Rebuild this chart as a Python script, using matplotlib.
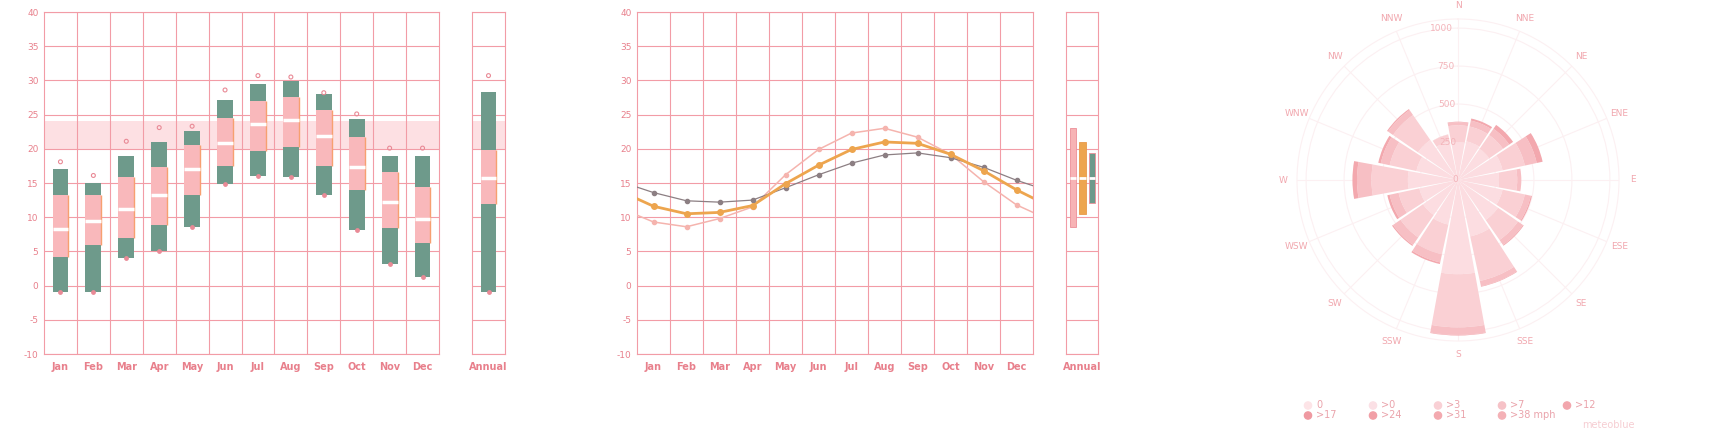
import numpy as np
import matplotlib.pyplot as plt
from matplotlib.patches import Circle

plt.rcParams['axes.unicode_minus'] = False

#### Data ####
months = ['Jan', 'Feb', 'Mar', 'Apr', 'May', 'Jun', 'Jul', 'Aug', 'Sep', 'Oct', 'Nov', 'Dec']

# left panel: monthly boxes
box_max = [17.0, 15.0, 19.0, 21.0, 22.6, 27.2, 29.5, 29.9, 28.0, 24.4, 19.0, 19.0]
box_q3 = [13.3, 13.3, 15.9, 17.3, 20.5, 24.5, 27.0, 27.6, 25.7, 21.7, 16.6, 14.4]
box_med = [8.3, 9.5, 11.2, 13.2, 17.0, 20.9, 23.6, 24.2, 21.8, 17.3, 12.2, 9.8]
box_q1 = [4.2, 6.0, 7.0, 8.9, 13.2, 17.5, 19.7, 20.2, 17.5, 14.0, 8.4, 6.3]
box_min = [-1.0, -1.0, 4.1, 5.1, 8.5, 14.8, 16.0, 15.9, 13.3, 8.1, 3.1, 1.3]
record_max = [18.1, 16.1, 21.1, 23.1, 23.3, 28.6, 30.7, 30.5, 28.2, 25.1, 20.1, 20.1]
annual_box = {'max': 28.3, 'q3': 19.8, 'med': 15.8, 'q1': 12.0, 'min': -1.0, 'rec': 30.7}
comfort_band = (20, 24)

# middle panel: monthly lines (edge values = curve at panel borders)
line_gray = [13.6, 12.4, 12.2, 12.5, 14.3, 16.2, 17.9, 19.1, 19.4, 18.7, 17.3, 15.4]
line_orange = [11.6, 10.5, 10.7, 11.7, 14.9, 17.6, 19.9, 21.0, 20.8, 19.2, 16.8, 14.0]
line_pink = [9.3, 8.6, 9.8, 11.5, 16.2, 19.9, 22.3, 23.0, 21.7, 19.2, 15.2, 11.8]
edge_gray = (14.4, 14.6)
edge_orange = (12.7, 12.8)
edge_pink = (10.3, 10.7)
annual_line_max = [23.0, 21.0, 19.4]
annual_line_min = [8.6, 10.4, 12.1]
annual_line_mean = [15.7, 15.7, 15.7]

# wind rose
directions = ['N', 'NNE', 'NE', 'ENE', 'E', 'ESE', 'SE', 'SSE',
              'S', 'SSW', 'SW', 'WSW', 'W', 'WNW', 'NW', 'NNW']
wind_gt0 = [250, 260, 250, 300, 270, 300, 320, 380, 620, 300, 280, 260, 330, 280, 320, 260]
wind_gt3 = [110, 100, 110, 150, 120, 150, 160, 300, 350, 200, 180, 140, 240, 180, 200, 45]
wind_gt7 = [20, 40, 50, 80, 27, 40, 40, 35, 50, 55, 60, 60, 95, 60, 40, 2]
wind_gt12 = [4, 14, 31, 40, 0, 8, 6, 4, 4, 11, 8, 16, 30, 17, 8, 0]
speed_labels = ['0', '>0', '>3', '>7', '>12', '>17', '>24', '>31', '>38 mph']
rose_ticks = [0, 250, 500, 750, 1000]

#### Colours ####
pink_txt = '#e8808c'
grid_c = '#f29ca6'
green = '#6e9a8b'
pink_box = '#f9b8bb'
orange = '#eda54e'
band_c = '#fde0e3'
speed_colors = ['#fde4e7', '#fbe0e5', '#f9d0d5', '#f6c2c7', '#f2a6ad',
                '#ef99a1', '#f19fa6', '#f3a9af', '#f4b1b6']
segment_colors = ['#fcdde1', '#fad0d4', '#f7bfc4', '#f3a8ae']

W, H = 1719, 433
fig = plt.figure(figsize=(W / 100, H / 100), dpi=100)


def px_axes(x0, y0, x1, y1, **kw):
    return fig.add_axes([x0 / W, 1 - y1 / H, (x1 - x0) / W, (y1 - y0) / H], **kw)


def style(ax, labels, xlim, vlines, show_y=True):
    ax.set_ylim(-10, 40)
    ax.set_yticks(range(-10, 41, 5))
    ax.set_xlim(*xlim)
    ax.set_xticks(np.arange(len(labels)) if len(labels) > 1 else [0.5])
    ax.set_xticklabels(labels, color=pink_txt, fontsize=7, fontweight='bold')
    ax.set_xticks(vlines, minor=True)
    ax.grid(axis='y', color=grid_c, lw=0.8, zorder=0)
    ax.grid(axis='x', which='minor', color=grid_c, lw=0.8, zorder=0)
    ax.tick_params(length=0, pad=6, which='both')
    ax.tick_params(axis='y', labelcolor=pink_txt, labelsize=6.5, pad=4)
    if not show_y:
        ax.set_yticklabels([])
    for s in ax.spines.values():
        s.set_color(grid_c)
        s.set_linewidth(0.8)
    ax.set_axisbelow(True)


x = np.arange(12)
bw = 0.48

#### Left: boxes ####
ax1 = px_axes(44, 12, 439, 354)
style(ax1, months, (-0.5, 11.5), np.arange(0.5, 11, 1))
ax1.axhspan(*comfort_band, color=band_c, zorder=0.5, lw=0)
ax1.bar(x, np.array(box_max) - box_min, bottom=box_min, width=bw, color=green, zorder=2)
ax1.bar(x, np.array(box_q3) - box_q1, bottom=box_q1, width=bw, color=pink_box, zorder=3)
ax1.vlines(x + bw / 2, box_q1, box_q3, color='#f7a070', lw=1, zorder=4)
ax1.hlines(box_med, x - bw / 2, x + bw / 2, color='white', lw=2.5, zorder=5)
ax1.scatter(x, record_max, s=8, facecolor='none', edgecolor='#e98a96', lw=0.8, zorder=5)
ax1.scatter(x, box_min, s=6, color='#e98a96', zorder=5)

ax1b = px_axes(472, 12, 505, 354)
style(ax1b, ['Annual'], (0, 1), [], show_y=False)
ax1b.axhspan(*comfort_band, color=band_c, zorder=0.5, lw=0)
a = annual_box
ax1b.bar(0.5, a['max'] - a['min'], bottom=a['min'], width=bw, color=green, zorder=2)
ax1b.bar(0.5, a['q3'] - a['q1'], bottom=a['q1'], width=bw, color=pink_box, zorder=3)
ax1b.vlines(0.5 + bw / 2, a['q1'], a['q3'], color='#f7a070', lw=1, zorder=4)
ax1b.hlines(a['med'], 0.5 - bw / 2, 0.5 + bw / 2, color='white', lw=2.5, zorder=5)
ax1b.scatter([0.5], [a['rec']], s=8, facecolor='none', edgecolor='#e98a96', lw=0.8, zorder=5)
ax1b.scatter([0.5], [a['min']], s=6, color='#e98a96', zorder=5)

#### Middle: lines ####
ax2 = px_axes(637, 12, 1033, 354)
style(ax2, months, (-0.5, 11.5), np.arange(0.5, 11, 1))
xe = np.concatenate([[-0.5], x, [11.5]])
for vals, edge, col, lw, ms in [(line_pink, edge_pink, '#f5b4ae', 1.1, 3),
                                (line_gray, edge_gray, '#8c7f83', 0.9, 3),
                                (line_orange, edge_orange, orange, 2.0, 4)]:
    ys = np.concatenate([[edge[0]], vals, [edge[1]]])
    ax2.plot(xe, ys, color=col, lw=lw, zorder=3)
    ax2.plot(x, vals, 'o', color=col, ms=ms, zorder=4)

ax2b = px_axes(1066, 12, 1098, 354)
style(ax2b, ['Annual'], (0, 1), [], show_y=False)
pos = [0.21, 0.52, 0.82]
cols = ['#f7b3b5', orange, green]
edges = ['#ec8f98', '#e99a4a', '#ec8f98']
for p, lo, hi, mn, c, e in zip(pos, annual_line_min, annual_line_max, annual_line_mean, cols, edges):
    ax2b.bar(p, hi - lo, bottom=lo, width=0.2, color=c, edgecolor=e, lw=0.6, zorder=3)
    ax2b.hlines(mn, p - 0.1, p + 0.1, color='white', lw=2, zorder=4)

#### Right: wind rose ####
axp = px_axes(1297, 19, 1619, 341, projection='polar')
axp.set_theta_zero_location('N')
axp.set_theta_direction(-1)
theta = np.arange(16) * 2 * np.pi / 16
bottom = np.zeros(16)
for vals, c in zip([wind_gt0, wind_gt3, wind_gt7, wind_gt12], segment_colors):
    axp.bar(theta, vals, bottom=bottom, width=0.36, color=c, edgecolor='none', zorder=2)
    bottom += np.array(vals)
axp.set_ylim(0, 1060)
axp.set_yticks(rose_ticks[1:])
axp.set_yticklabels([])
axp.set_xticks(theta)
axp.set_xticklabels([])
axp.grid(color='#fcf0f2', lw=0.8)
axp.spines['polar'].set_color('#fcf0f2')
for r in rose_ticks:
    axp.text(np.deg2rad(-2), r, str(r), color='#f3b4ba', fontsize=6.5,
             ha='right', va='center', zorder=5)
for t, d in zip(theta, directions):
    axp.text(t, 1150, d, color='#f1a7ae', fontsize=6.5, ha='center', va='center',
             clip_on=False)

#### Legend ####
axl = px_axes(0, 0, W, H)
axl.set_xlim(0, W)
axl.set_ylim(H, 0)
axl.axis('off')
cols_x = [1308, 1373, 1438, 1502, 1567]
for i, (lab, c) in enumerate(zip(speed_labels, speed_colors)):
    cx = cols_x[i % 5] if i < 5 else cols_x[i - 5]
    cy = 405.5 if i < 5 else 415.5
    axl.add_patch(Circle((cx, cy), 3.6, color=c))
    axl.text(cx + 8, cy, lab, color='#eaa3ab', fontsize=7, va='center', ha='left')
axl.text(1608, 425, 'meteoblue', color='#f6cdd2', fontsize=7, ha='center', va='center')

fig.savefig('out.png', dpi=100)
